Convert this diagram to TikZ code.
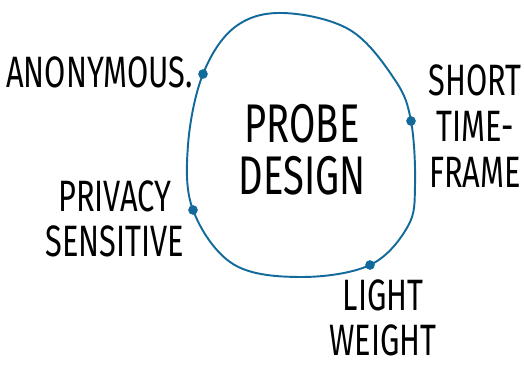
\documentclass[tikz,border=0pt]{standalone}
\usepackage{fontspec}
\setmainfont{Fira Sans}[FakeStretch=0.7]
\usetikzlibrary{positioning}
\definecolor{probeblue}{RGB}{18,106,155}
\tikzset{blob/.style={draw=probeblue,line width=1.1pt},
         dot/.style={circle,fill=probeblue,inner sep=0pt,minimum size=5.5pt},
         tag/.style={align=center,inner sep=0pt,font=\fontsize{25}{26}\selectfont},
         title/.style={align=center,inner sep=0pt,font=\fontsize{31}{29.5}\selectfont}
}

\begin{document}
\begin{tikzpicture}[x=0.02cm,y=-0.02cm]
\useasboundingbox (0,0) rectangle (524,365);

% points on the outline
\coordinate (anon) at (203,74);
\coordinate (short) at (411,121);
\coordinate (light) at (370,265);
\coordinate (priv) at (193,210);

\draw[blob] plot[smooth cycle,tension=0.6] coordinates {(283,13) (350,30) (395,80) (short) (415,185) (408,226) (light) (300,277) (233,264) (priv) (188,145) (anon) (235,27)};

\node[dot] (anondot) at (anon) {};
\node[dot] (shortdot) at (short) {};
\node[dot] (lightdot) at (light) {};
\node[dot] (privdot) at (priv) {};

\node[title] (probe) at (302,150) {PROBE\\DESIGN};
\node[tag,anchor=east] (anontext) at (193,72) {ANONYMOUS.};
\node[tag] (shorttext) at (475,126) {SHORT\\TIME-\\FRAME};
\node[tag] (privtext) at (115,219) {PRIVACY\\SENSITIVE};
\node[tag] (lighttext) at (383,318) {LIGHT\\WEIGHT};

\end{tikzpicture}
\end{document}
